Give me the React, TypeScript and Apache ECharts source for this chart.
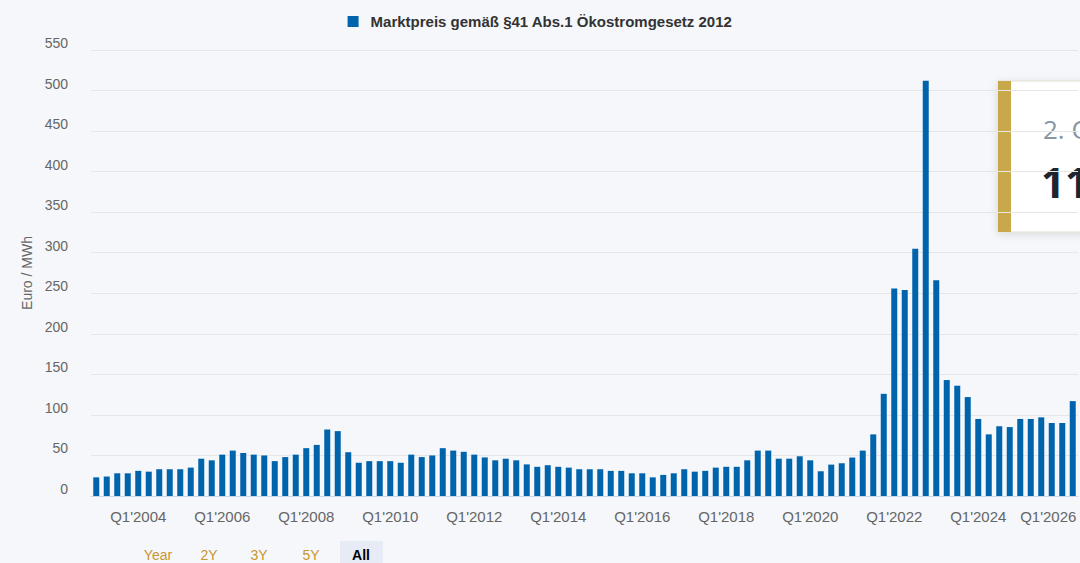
import React, { useEffect, useRef } from "react";
import * as echarts from "echarts";

const startYear = 2003;
const barCount = 94;
const categories: string[] = [];
for (let i = 0; i < barCount; i++) {
  const y = startYear + Math.floor(i / 4);
  categories.push(`Q${(i % 4) + 1}'${y}`);
}

const prices2003to2006 = [23, 24, 28, 28, 31, 30, 33, 33, 33, 35, 46, 44, 51, 56, 53, 51];
const prices2007to2011 = [50, 43, 48, 51, 59, 63, 82, 80, 54, 41, 43, 43, 43, 41, 51, 48, 50];
const prices2011to2015 = [59, 56, 54.5, 51, 47.6, 44, 46, 44, 39, 36, 38, 36, 35, 33, 33, 33, 31];
const prices2015to2019 = [31, 28, 28, 23, 26, 28, 33, 30, 31, 35, 36, 36, 44, 56, 56, 46];
const prices2019to2022 = [46, 49, 44, 30.5, 38.7, 40.4, 47.4, 56, 76, 126, 256, 254, 305, 512];
const prices2023to2026 = [266, 143, 136, 122, 95, 76, 86, 85, 95, 95, 97, 90, 90, 117];

const values = [
  ...prices2003to2006,
  ...prices2007to2011,
  ...prices2011to2015,
  ...prices2015to2019,
  ...prices2019to2022,
  ...prices2023to2026,
];

const seriesName = "Marktpreis gemäß §41 Abs.1 Ökostromgesetz 2012";
const rangeButtons = ["Year", "2Y", "3Y", "5Y", "All"];

const FONT = '"Liberation Sans", Arial, sans-serif';

export default function App() {
  const ref = useRef<HTMLDivElement>(null);
  useEffect(() => {
    if (!ref.current) return;
    const chart = echarts.init(ref.current, undefined, { renderer: "svg" });
    const lastIdx = values.length - 1;
    const lastCat = categories[lastIdx];
    const lastQ = lastCat.charAt(1);
    const lastY = lastCat.slice(3);
    const tipTitle = `${lastQ}. Quartal ${lastY}`;
    const tipValue = String(Math.round(values[lastIdx]));

    const btnX = [158, 209, 259, 311, 361];
    const buttonGraphics: any[] = [
      {
        type: "rect",
        shape: { x: 340, y: 541, width: 43, height: 26, r: 2 },
        style: { fill: "#e6ebf5" },
      },
    ];
    rangeButtons.forEach((b, i) => {
      const isAll = i === rangeButtons.length - 1;
      buttonGraphics.push({
        type: "text",
        x: btnX[i],
        y: 555,
        style: {
          text: b,
          fill: isAll ? "#000000" : "#c9962f",
          font: `${isAll ? "bold " : ""}14px ${FONT}`,
          textAlign: "center",
          textVerticalAlign: "middle",
        },
      });
    });

    chart.setOption({
      animation: false,
      backgroundColor: "#f5f7fa",
      legend: {
        top: 9,
        left: "center",
        icon: "rect",
        itemWidth: 11,
        itemHeight: 11,
        itemGap: 10,
        textStyle: {
          color: "#333333",
          fontWeight: "bold",
          fontSize: 15,
          fontFamily: FONT,
          padding: [0, 0, 0, 7],
        },
        data: [seriesName],
      },
      grid: { left: 91, right: 2, top: 50, bottom: 67 },
      xAxis: {
        type: "category",
        data: categories,
        boundaryGap: true,
        axisLine: { lineStyle: { color: "#ccd6eb", width: 1 } },
        axisTick: {
          alignWithLabel: true,
          length: 12,
          lineStyle: { color: "#ccd6eb" },
          interval: (i: number) => i % 8 === 4,
        },
        axisLabel: {
          interval: (i: number) => i % 8 === 4,
          color: "#666666",
          fontSize: 15,
          fontFamily: FONT,
          margin: 13,
          formatter: (v: string, i: number) =>
            i + 8 > lastIdx ? `{last|${v}}` : v,
          rich: {
            last: {
              color: "#666666",
              fontSize: 15,
              fontFamily: FONT,
              padding: [0, 28, 0, 0],
            },
          },
        },
        splitLine: { show: false },
      },
      yAxis: {
        type: "value",
        min: 0,
        max: 550,
        interval: 50,
        name: "Euro / MWh",
        nameLocation: "middle",
        nameGap: 56,
        nameRotate: 90,
        nameTextStyle: {
          color: "#666666",
          fontSize: 14,
          fontFamily: FONT,
        },
        axisLine: { show: false },
        axisTick: { show: false },
        axisLabel: {
          color: "#666666",
          fontSize: 14,
          fontFamily: FONT,
          margin: 23,
          verticalAlign: "bottom",
        },
        splitLine: { lineStyle: { color: "#e6e6e6", width: 1 } },
      },
      series: [
        {
          name: seriesName,
          type: "bar",
          data: values,
          barWidth: 6,
          itemStyle: { color: "#0064ad" },
        },
      ],
      graphic: [
        ...buttonGraphics,
        {
          type: "group",
          children: [
            {
              type: "rect",
              shape: { x: 998, y: 81, width: 220, height: 151 },
              style: {
                fill: "#ffffff",
                stroke: "#e3ddd0",
                lineWidth: 1,
                shadowBlur: 8,
                shadowColor: "rgba(0,0,0,0.12)",
                shadowOffsetX: 0,
                shadowOffsetY: 2,
              },
            },
            {
              type: "rect",
              shape: { x: 998, y: 81, width: 13, height: 151 },
              style: { fill: "#c9a84c" },
            },
            {
              type: "text",
              x: 1043,
              y: 129,
              style: {
                text: tipTitle,
                fill: "#8796a5",
                font: '26px "Open Sans", sans-serif',
                textVerticalAlign: "middle",
              },
            },
            {
              type: "text",
              x: 1041,
              y: 181,
              style: {
                text: tipValue,
                fill: "#1c2630",
                font: 'bold 42px "Open Sans", sans-serif',
                textVerticalAlign: "middle",
              },
            },
          ],
        },
      ],
    });
    return () => chart.dispose();
  }, []);
  return (
    <div
      ref={ref}
      style={{ position: "fixed", left: 0, top: 0, width: 1080, height: 563 }}
    />
  );
}
